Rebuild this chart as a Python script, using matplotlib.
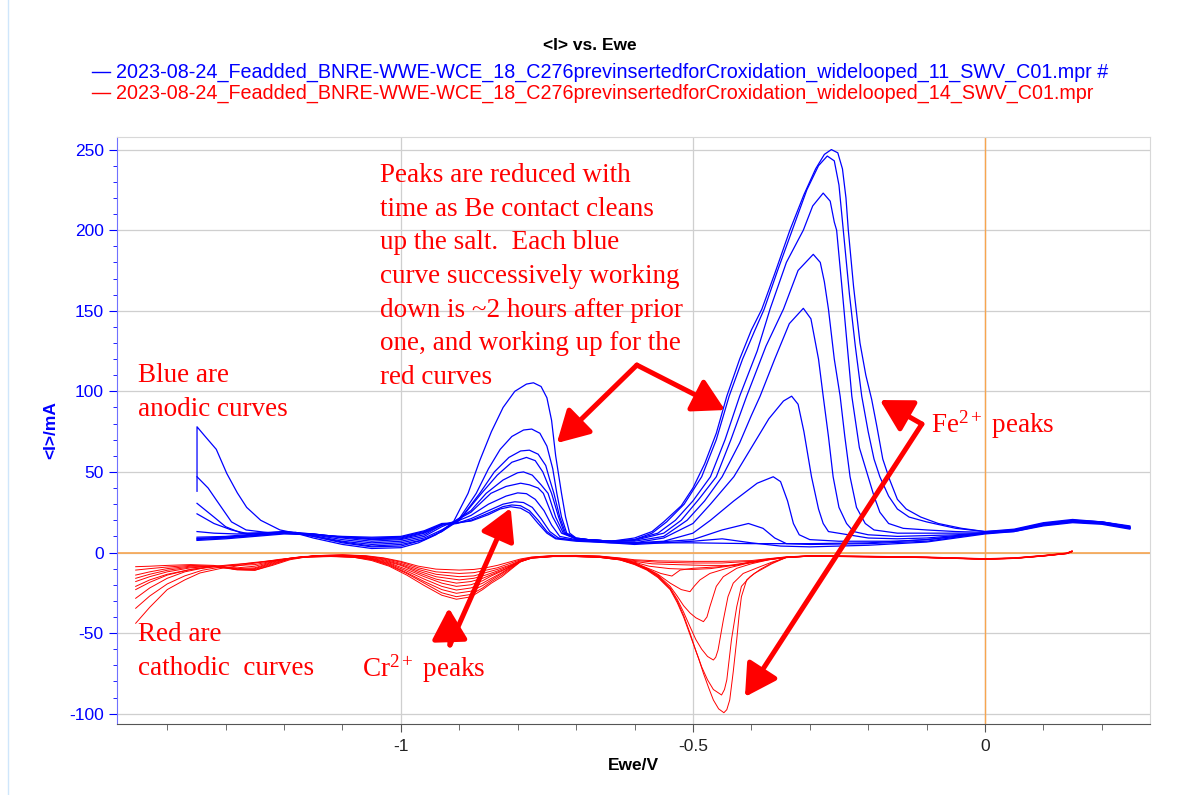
import matplotlib
matplotlib.use("Agg")
import matplotlib.pyplot as plt
from matplotlib.lines import Line2D
from matplotlib.patches import FancyArrowPatch
from matplotlib.ticker import MultipleLocator, FixedLocator

plt.rcParams["axes.unicode_minus"] = False
plt.rcParams["mathtext.fontset"] = "custom"
plt.rcParams["mathtext.rm"] = "Liberation Serif"
plt.rcParams["mathtext.it"] = "Liberation Serif:italic"

# ---- anodic (blue) SWV curves, (Ewe/V, <I>/mA) ----
anodic_1 = [(-1.349, 38), (-1.349, 78), (-1.335, 72), (-1.316, 64), (-1.298, 49), (-1.28, 37), (-1.264, 28),
            (-1.24, 20), (-1.207, 14), (-1.18, 12), (-1.15, 9), (-1.1, 5), (-1.05, 2.5), (-1.0, 3), (-0.97, 6),
            (-0.94, 11), (-0.91, 19), (-0.885, 36.7), (-0.865, 57), (-0.845, 75), (-0.825, 90), (-0.805, 100),
            (-0.785, 104.5), (-0.773, 105.3), (-0.76, 103), (-0.75, 96), (-0.742, 82), (-0.735, 60), (-0.725, 36.7),
            (-0.718, 22), (-0.711, 12), (-0.70, 9), (-0.68, 8), (-0.64, 7),
            (-0.6, 9), (-0.57, 13), (-0.55, 19), (-0.52, 29), (-0.5, 40), (-0.48, 55), (-0.46, 74), (-0.442, 97),
            (-0.42, 120), (-0.40, 138), (-0.382, 151), (-0.36, 173), (-0.334, 200), (-0.31, 222), (-0.29, 238),
            (-0.275, 247), (-0.263, 250), (-0.252, 248), (-0.244, 238), (-0.238, 220), (-0.234, 200), (-0.225, 165),
            (-0.214, 130), (-0.204, 110), (-0.194, 95), (-0.185, 78), (-0.175, 58), (-0.163, 45), (-0.15, 33),
            (-0.135, 27), (-0.11, 22), (-0.08, 18), (-0.04, 15), (0.0, 13), (0.05, 14), (0.1, 18), (0.15, 20),
            (0.2, 19), (0.248, 16)]
anodic_2 = [(-1.349, 47), (-1.33, 40), (-1.316, 32.6), (-1.29, 19), (-1.265, 14), (-1.22, 12), (-1.18, 12),
            (-1.15, 10), (-1.1, 6), (-1.05, 3.5), (-1.0, 4), (-0.96, 8), (-0.93, 13), (-0.9, 21), (-0.871, 36.7),
            (-0.85, 52), (-0.83, 64), (-0.81, 72), (-0.79, 76), (-0.776, 76.6), (-0.762, 74), (-0.75, 66),
            (-0.74, 52), (-0.733, 36.7), (-0.725, 22), (-0.716, 12), (-0.70, 9), (-0.68, 8), (-0.64, 7),
            (-0.6, 8), (-0.57, 12), (-0.545, 19), (-0.515, 30), (-0.485, 47), (-0.46, 70), (-0.438, 97),
            (-0.415, 120), (-0.395, 137), (-0.378, 151), (-0.355, 175), (-0.33, 200), (-0.305, 225), (-0.285, 240),
            (-0.27, 246), (-0.258, 243), (-0.25, 228), (-0.2426, 200), (-0.232, 160), (-0.222, 128), (-0.211, 97),
            (-0.2, 75), (-0.19, 58), (-0.18, 47), (-0.165, 35), (-0.15, 27), (-0.13, 22), (-0.1, 19), (-0.05, 15),
            (0.0, 13), (0.05, 14.5), (0.1, 18.5), (0.15, 20.5), (0.2, 19), (0.248, 16.5)]
anodic_3 = [(-1.349, 30.5), (-1.32, 22), (-1.3, 16), (-1.273, 12), (-1.22, 12), (-1.18, 12.5), (-1.15, 10),
            (-1.1, 6.5), (-1.05, 4), (-1.0, 5), (-0.96, 8), (-0.93, 13), (-0.9, 20), (-0.865, 36.7), (-0.84, 50),
            (-0.815, 59), (-0.795, 63), (-0.78, 63.5), (-0.765, 61), (-0.752, 54), (-0.745, 45), (-0.738, 36.7),
            (-0.728, 22), (-0.718, 12), (-0.70, 8.5), (-0.64, 7),
            (-0.6, 8), (-0.56, 12), (-0.53, 20), (-0.5, 32), (-0.47, 47), (-0.445, 70), (-0.42, 97), (-0.39, 125),
            (-0.368, 151), (-0.34, 180), (-0.311, 200), (-0.295, 215), (-0.277, 223), (-0.265, 218), (-0.258, 205),
            (-0.254, 200), (-0.245, 165), (-0.235, 125), (-0.228, 97), (-0.215, 65), (-0.2, 47), (-0.19, 35),
            (-0.18, 25), (-0.165, 18), (-0.14, 15), (-0.1, 14), (-0.05, 13), (0.0, 12.5), (0.05, 14), (0.1, 18),
            (0.15, 20), (0.2, 19), (0.248, 16)]
anodic_4 = [(-1.349, 24), (-1.32, 18), (-1.29, 14), (-1.26, 11.5), (-1.2, 12.5), (-1.15, 10.5), (-1.1, 7),
            (-1.05, 5), (-1.0, 6), (-0.96, 9), (-0.93, 14), (-0.9, 20), (-0.862, 36.7), (-0.835, 48), (-0.81, 56),
            (-0.785, 59), (-0.77, 57), (-0.757, 50), (-0.742, 36.7), (-0.73, 22), (-0.72, 12), (-0.70, 8.5),
            (-0.64, 7),
            (-0.6, 7.5), (-0.55, 12), (-0.52, 20), (-0.49, 33), (-0.46, 47), (-0.435, 70), (-0.408, 97),
            (-0.375, 128), (-0.345, 151), (-0.32, 175), (-0.294, 185), (-0.282, 180), (-0.275, 168), (-0.268, 151),
            (-0.258, 120), (-0.248, 97), (-0.24, 72), (-0.231, 47), (-0.22, 28), (-0.205, 18), (-0.19, 14),
            (-0.15, 12), (-0.1, 12), (-0.05, 12), (0.0, 12), (0.05, 14), (0.1, 18), (0.15, 19.5), (0.2, 18.5),
            (0.248, 15.5)]
anodic_5 = [(-1.349, 13), (-1.32, 12), (-1.28, 11.5), (-1.2, 13), (-1.15, 11), (-1.1, 8), (-1.05, 6), (-1.0, 7),
            (-0.96, 10), (-0.93, 16), (-0.91, 19), (-0.88, 26), (-0.854, 36.7), (-0.825, 45), (-0.8, 49.5),
            (-0.79, 50), (-0.775, 48), (-0.76, 42), (-0.748, 36.7), (-0.735, 22), (-0.722, 12), (-0.70, 8.5),
            (-0.64, 7),
            (-0.6, 7), (-0.55, 10), (-0.51, 20), (-0.48, 32), (-0.45, 47), (-0.42, 68), (-0.4, 85), (-0.385, 97),
            (-0.36, 120), (-0.335, 142), (-0.311, 151.5), (-0.298, 145), (-0.285, 120), (-0.277, 97), (-0.268, 72),
            (-0.26, 47), (-0.25, 28), (-0.237, 18), (-0.225, 13), (-0.2, 11), (-0.15, 10), (-0.1, 10.5),
            (-0.05, 11), (0.0, 12), (0.05, 13.5), (0.1, 17.5), (0.15, 19.5), (0.2, 18.5), (0.248, 15.5)]
anodic_6 = [(-1.349, 9.5), (-1.3, 10), (-1.2, 13), (-1.15, 11.5), (-1.1, 9), (-1.05, 7), (-1.0, 8), (-0.96, 11),
            (-0.93, 17), (-0.91, 19), (-0.88, 25), (-0.846, 36.7), (-0.82, 41), (-0.795, 43), (-0.78, 42),
            (-0.765, 40), (-0.756, 36.7), (-0.74, 22), (-0.725, 12), (-0.70, 8.5), (-0.64, 7),
            (-0.6, 6), (-0.55, 9), (-0.5, 18), (-0.47, 30), (-0.43, 47), (-0.4, 65), (-0.37, 83), (-0.345, 94),
            (-0.331, 97), (-0.32, 92), (-0.31, 75), (-0.297, 47), (-0.285, 27), (-0.277, 18), (-0.268, 13),
            (-0.2, 9), (-0.15, 8.5), (-0.1, 9), (-0.05, 10.5), (0.0, 12), (0.05, 13.5), (0.1, 17.5), (0.15, 19.5),
            (0.2, 18.5), (0.248, 15.5)]
anodic_7 = [(-1.349, 8.8), (-1.3, 9.5), (-1.2, 12.5), (-1.15, 11.5), (-1.1, 9.5), (-1.05, 8), (-1.0, 8.5),
            (-0.96, 12), (-0.93, 17), (-0.91, 18.5), (-0.88, 23), (-0.85, 30), (-0.82, 35), (-0.8, 37),
            (-0.785, 36.5), (-0.77, 33), (-0.755, 26), (-0.742, 17), (-0.728, 10), (-0.70, 8), (-0.64, 6.5),
            (-0.6, 6), (-0.55, 7), (-0.5, 12), (-0.47, 20), (-0.43, 32), (-0.39, 43), (-0.3625, 47), (-0.35, 44),
            (-0.338, 32), (-0.328, 18), (-0.318, 11), (-0.3, 8), (-0.25, 7), (-0.15, 7), (-0.1, 8), (-0.05, 10),
            (0.0, 12), (0.05, 13.5), (0.1, 17), (0.15, 19), (0.2, 18), (0.248, 15)]
anodic_8 = [(-1.349, 8.5), (-1.3, 9.5), (-1.2, 12), (-1.15, 11.5), (-1.1, 9.5), (-1.05, 8.5), (-1.0, 9),
            (-0.96, 12.5), (-0.93, 17.5), (-0.905, 18), (-0.88, 21), (-0.85, 26), (-0.825, 30), (-0.805, 31.5),
            (-0.79, 31), (-0.775, 28), (-0.76, 21), (-0.745, 13), (-0.73, 9), (-0.70, 7.5), (-0.64, 6.5),
            (-0.6, 5.5), (-0.5, 8), (-0.45, 14), (-0.405, 18), (-0.38, 15), (-0.36, 9), (-0.34, 5.5), (-0.3, 5),
            (-0.2, 5.5), (-0.1, 7), (-0.05, 9.5), (0.0, 12), (0.05, 13.5), (0.1, 17), (0.15, 19), (0.2, 18),
            (0.248, 15)]
anodic_9 = [(-1.349, 8), (-1.3, 9), (-1.2, 12), (-1.15, 11), (-1.1, 9.5), (-1.05, 9), (-1.0, 9.5), (-0.96, 13),
            (-0.93, 17.5), (-0.905, 18), (-0.88, 20), (-0.85, 24.5), (-0.825, 28.5), (-0.81, 29.5), (-0.795, 29),
            (-0.78, 26), (-0.765, 20), (-0.75, 13), (-0.735, 9), (-0.70, 7.5), (-0.64, 6),
            (-0.6, 5), (-0.5, 7), (-0.45, 8.5), (-0.4, 6), (-0.35, 4), (-0.3, 3.5), (-0.2, 4.5), (-0.1, 6.5),
            (-0.05, 9), (0.0, 11.5), (0.05, 13), (0.1, 17), (0.15, 19), (0.2, 18), (0.248, 15)]
anodic_10 = [(-1.349, 7.5), (-1.3, 8.5), (-1.2, 11.5), (-1.15, 11), (-1.1, 10), (-1.05, 9.5), (-1.0, 10),
             (-0.96, 13.5), (-0.93, 18), (-0.905, 18.5), (-0.88, 19.5), (-0.85, 23.5), (-0.83, 27), (-0.812, 28.4),
             (-0.795, 27.5), (-0.78, 24.5), (-0.765, 18), (-0.75, 12), (-0.735, 8.5), (-0.70, 7), (-0.64, 6),
             (-0.6, 6), (-0.5, 6), (-0.4, 5.5), (-0.3, 5.5), (-0.2, 6), (-0.1, 8), (0.0, 12), (0.05, 13),
             (0.1, 16.5), (0.15, 18.5), (0.2, 17.5), (0.248, 14.5)]

# ---- cathodic (red) SWV curves ----
cathodic_1 = [(-1.454, -43.9), (-1.43, -34), (-1.40, -23), (-1.37, -17), (-1.344, -12.7), (-1.31, -10),
              (-1.288, -8.8), (-1.25, -6.5), (-1.207, -4.6), (-1.17, -3), (-1.12, -2.5), (-1.08, -3), (-1.05, -5),
              (-1.02, -8.5), (-0.99, -14), (-0.96, -20.5), (-0.93, -26.5), (-0.905, -29), (-0.88, -27.5),
              (-0.86, -23), (-0.845, -19), (-0.827, -15), (-0.81, -10), (-0.795, -5.7), (-0.776, -3.5),
              (-0.74, -2.5), (-0.7, -2.5), (-0.66, -3), (-0.625, -4.6), (-0.6, -7.5), (-0.579, -10.9),
              (-0.56, -15.5), (-0.539, -23), (-0.527, -31), (-0.516, -40), (-0.508, -48), (-0.5, -56),
              (-0.49, -66), (-0.482, -75), (-0.473, -84), (-0.465, -91.5), (-0.456, -97), (-0.447, -99.4),
              (-0.442, -97.5), (-0.437, -91.5), (-0.431, -74), (-0.425, -54), (-0.421, -39), (-0.417, -27.4),
              (-0.408, -17), (-0.395, -13), (-0.385, -11), (-0.365, -7), (-0.34, -3), (-0.3, -2), (-0.2, -2.5),
              (-0.1, -3), (-0.05, -3.5), (0.0, -4), (0.05, -3.5), (0.1, -2), (0.14, -0.5), (0.149, 1)]
cathodic_2 = [(-1.454, -34.6), (-1.43, -27), (-1.40, -19.5), (-1.37, -14.5), (-1.34, -11), (-1.3, -8.5),
              (-1.26, -6.5), (-1.207, -4.5), (-1.17, -3), (-1.12, -2.3), (-1.08, -3), (-1.05, -4.5), (-1.02, -8),
              (-0.99, -13), (-0.96, -19), (-0.93, -25), (-0.905, -27.4), (-0.88, -26), (-0.86, -22), (-0.845, -18),
              (-0.827, -14), (-0.81, -9.5), (-0.795, -5.5), (-0.776, -3.5), (-0.74, -2.5), (-0.7, -2.5),
              (-0.66, -3), (-0.625, -4.5), (-0.6, -7.2), (-0.579, -10.5), (-0.56, -15), (-0.539, -22.5),
              (-0.527, -30), (-0.516, -39), (-0.505, -50), (-0.495, -61), (-0.485, -71), (-0.475, -79),
              (-0.465, -85), (-0.451, -88.4), (-0.446, -85), (-0.442, -79), (-0.434, -54), (-0.425, -33.6),
              (-0.417, -21), (-0.402, -15), (-0.385, -10.5), (-0.365, -6.5), (-0.34, -3), (-0.3, -2), (-0.2, -2.5),
              (-0.1, -3), (-0.05, -3.5), (0.0, -4), (0.05, -3.5), (0.1, -2), (0.14, -0.5), (0.149, 0.8)]
cathodic_3 = [(-1.454, -28.4), (-1.43, -22), (-1.40, -16), (-1.37, -12), (-1.33, -9), (-1.29, -7.5),
              (-1.25, -6.5), (-1.207, -4.2), (-1.17, -2.8), (-1.12, -2.2), (-1.08, -2.8), (-1.05, -4.3),
              (-1.02, -7.5), (-0.99, -12.5), (-0.96, -18), (-0.93, -23), (-0.905, -25.3), (-0.88, -24),
              (-0.86, -20.5), (-0.845, -17), (-0.827, -13), (-0.81, -9), (-0.795, -5.3), (-0.776, -3.4),
              (-0.74, -2.5), (-0.7, -2.5), (-0.66, -3), (-0.625, -4.5), (-0.6, -7), (-0.579, -10.3),
              (-0.56, -14.5), (-0.539, -22), (-0.527, -29), (-0.516, -37), (-0.505, -46), (-0.495, -54),
              (-0.485, -60), (-0.475, -64.5), (-0.465, -66.7), (-0.461, -65), (-0.457, -60.5), (-0.448, -42),
              (-0.44, -27.4), (-0.431, -19), (-0.414, -13), (-0.39, -9.5), (-0.365, -6), (-0.34, -3.2),
              (-0.3, -2.2), (-0.2, -2.6), (-0.1, -3.1), (-0.05, -3.6), (0.0, -4.1), (0.05, -3.6), (0.1, -2.1),
              (0.14, -0.6), (0.149, 0.6)]
cathodic_4 = [(-1.454, -23), (-1.43, -18.5), (-1.40, -14), (-1.36, -10.5), (-1.32, -8.5), (-1.28, -8),
              (-1.25, -7.5), (-1.207, -4.5), (-1.17, -2.8), (-1.12, -2), (-1.08, -2.6), (-1.05, -4), (-1.02, -7),
              (-0.99, -11.5), (-0.96, -16.5), (-0.93, -21), (-0.905, -23.3), (-0.88, -22), (-0.86, -19),
              (-0.845, -16), (-0.827, -12.5), (-0.81, -8.5), (-0.795, -5.2), (-0.776, -3.3), (-0.74, -2.4),
              (-0.7, -2.4), (-0.66, -2.8), (-0.625, -4.3), (-0.6, -6.8), (-0.579, -10), (-0.56, -14),
              (-0.539, -21), (-0.527, -27), (-0.516, -33), (-0.505, -37.5), (-0.495, -40.5), (-0.482, -42.9),
              (-0.476, -40), (-0.471, -33.6), (-0.46, -21), (-0.448, -15), (-0.425, -9.8), (-0.4, -7),
              (-0.37, -4.5), (-0.34, -3), (-0.3, -2.2), (-0.2, -2.6), (-0.1, -3.1), (-0.05, -3.6), (0.0, -4.1),
              (0.05, -3.6), (0.1, -2.1), (0.14, -0.6), (0.149, 0.6)]
cathodic_5 = [(-1.454, -21), (-1.43, -17), (-1.40, -13.5), (-1.36, -10.5), (-1.32, -9), (-1.28, -9.5),
              (-1.25, -8.5), (-1.207, -4.5), (-1.17, -2.5), (-1.12, -2), (-1.08, -2.5), (-1.05, -3.8),
              (-1.02, -6.5), (-0.99, -10.5), (-0.96, -15), (-0.93, -19), (-0.905, -21), (-0.88, -20),
              (-0.86, -17.5), (-0.845, -14.5), (-0.827, -11.5), (-0.81, -8), (-0.795, -5), (-0.776, -3.2),
              (-0.74, -2.3), (-0.7, -2.3), (-0.66, -2.7), (-0.625, -4.2), (-0.6, -6.5), (-0.579, -9.8),
              (-0.56, -13.5), (-0.539, -19), (-0.52, -23), (-0.505, -24.3), (-0.498, -21), (-0.488, -17),
              (-0.471, -13), (-0.442, -9.8), (-0.41, -7), (-0.37, -4.5), (-0.34, -3), (-0.3, -2.3), (-0.2, -2.7),
              (-0.1, -3.2), (-0.05, -3.7), (0.0, -4.2), (0.05, -3.7), (0.1, -2.2), (0.14, -0.7), (0.149, 0.5)]
cathodic_6 = [(-1.454, -18), (-1.43, -15), (-1.40, -12), (-1.36, -9.5), (-1.32, -8.5), (-1.28, -10),
              (-1.25, -9.5), (-1.22, -6), (-1.19, -3.5), (-1.15, -2.2), (-1.1, -2), (-1.06, -3), (-1.03, -5),
              (-1.0, -8), (-0.97, -12.5), (-0.94, -16.5), (-0.905, -19), (-0.88, -18), (-0.86, -16), (-0.84, -13),
              (-0.82, -10), (-0.8, -6.5), (-0.776, -3.2), (-0.74, -2.3), (-0.7, -2.2), (-0.66, -2.6),
              (-0.625, -4.1), (-0.6, -6.3), (-0.579, -9.5), (-0.555, -13), (-0.536, -14.6), (-0.522, -10.9),
              (-0.5, -9.8), (-0.454, -8.8), (-0.41, -6.5), (-0.37, -4.3), (-0.34, -3), (-0.3, -2.3), (-0.2, -2.7),
              (-0.1, -3.2), (-0.05, -3.7), (0.0, -4.2), (0.05, -3.7), (0.1, -2.2), (0.14, -0.7), (0.149, 0.5)]
cathodic_7 = [(-1.454, -16), (-1.43, -13.5), (-1.40, -11), (-1.36, -9), (-1.32, -8.5), (-1.28, -10.5),
              (-1.25, -10), (-1.22, -6.5), (-1.19, -3.8), (-1.15, -2.3), (-1.1, -1.8), (-1.06, -2.6), (-1.03, -4.5),
              (-1.0, -7.5), (-0.97, -11.5), (-0.94, -15), (-0.9, -17), (-0.875, -16), (-0.855, -14),
              (-0.835, -11.5), (-0.815, -8.5), (-0.795, -5.5), (-0.776, -3.2), (-0.74, -2.2), (-0.7, -2.1),
              (-0.66, -2.5), (-0.625, -4), (-0.6, -6), (-0.575, -8.5), (-0.54, -10), (-0.5, -10.5), (-0.47, -10),
              (-0.43, -8), (-0.4, -6), (-0.37, -4.2), (-0.34, -3), (-0.3, -2.3), (-0.2, -2.6), (-0.1, -3.1),
              (-0.05, -3.6), (0.0, -4.1), (0.05, -3.6), (0.1, -2.1), (0.14, -0.6), (0.149, 0.6)]
cathodic_8 = [(-1.454, -14), (-1.43, -12), (-1.40, -10), (-1.36, -8.5), (-1.32, -8.5), (-1.28, -10.5),
              (-1.25, -10.5), (-1.22, -7), (-1.19, -4), (-1.15, -2.2), (-1.1, -1.7), (-1.06, -2.4), (-1.03, -4),
              (-1.0, -6.8), (-0.97, -10.5), (-0.94, -13.5), (-0.9, -15), (-0.875, -14.5), (-0.855, -12.5),
              (-0.835, -10.5), (-0.815, -8), (-0.795, -5), (-0.776, -3.1), (-0.74, -2.1), (-0.7, -2), (-0.66, -2.4),
              (-0.625, -3.8), (-0.6, -5.5), (-0.57, -7), (-0.53, -7.5), (-0.48, -8), (-0.43, -8), (-0.4, -6),
              (-0.37, -4.2), (-0.34, -3), (-0.3, -2.2), (-0.2, -2.5), (-0.1, -3), (-0.05, -3.5), (0.0, -4),
              (0.05, -3.5), (0.1, -2), (0.14, -0.5), (0.149, 0.7)]
cathodic_9 = [(-1.454, -10.9), (-1.43, -10), (-1.40, -9), (-1.36, -8), (-1.32, -8.5), (-1.28, -10.8),
              (-1.25, -11), (-1.22, -7.5), (-1.19, -4), (-1.15, -2), (-1.1, -1.5), (-1.06, -2.2), (-1.03, -3.6),
              (-1.0, -6), (-0.97, -9.5), (-0.94, -12), (-0.9, -13), (-0.875, -12.5), (-0.855, -11), (-0.835, -9.5),
              (-0.815, -7), (-0.795, -4.5), (-0.776, -3), (-0.74, -2), (-0.7, -1.9), (-0.66, -2.3), (-0.625, -3.6),
              (-0.6, -5), (-0.56, -6), (-0.5, -6.5), (-0.45, -6.5), (-0.4, -5.5), (-0.37, -4), (-0.34, -2.8),
              (-0.3, -2.1), (-0.2, -2.4), (-0.1, -2.9), (-0.05, -3.4), (0.0, -3.9), (0.05, -3.4), (0.1, -1.9),
              (0.14, -0.4), (0.149, 0.8)]
cathodic_10 = [(-1.454, -8.8), (-1.43, -8.5), (-1.40, -8), (-1.36, -7.5), (-1.32, -8), (-1.28, -10.5),
               (-1.25, -11), (-1.22, -8), (-1.19, -4.5), (-1.15, -2), (-1.1, -1.4), (-1.06, -2), (-1.03, -3.3),
               (-1.0, -5.5), (-0.97, -8.5), (-0.94, -10.3), (-0.9, -10.9), (-0.875, -10.5), (-0.855, -9.5),
               (-0.835, -8), (-0.815, -6), (-0.795, -4), (-0.776, -2.8), (-0.74, -1.9), (-0.7, -1.8),
               (-0.66, -2.2), (-0.625, -3.4), (-0.6, -4.5), (-0.56, -5.2), (-0.5, -5.5), (-0.45, -5.5), (-0.4, -5),
               (-0.37, -3.8), (-0.34, -2.7), (-0.3, -2), (-0.2, -2.3), (-0.1, -2.8), (-0.05, -3.3), (0.0, -3.8),
               (0.05, -3.3), (0.1, -1.8), (0.14, -0.3), (0.149, 0.9)]

anodic = [anodic_1, anodic_2, anodic_3, anodic_4, anodic_5, anodic_6, anodic_7, anodic_8, anodic_9, anodic_10]
cathodic = [cathodic_1, cathodic_2, cathodic_3, cathodic_4, cathodic_5, cathodic_6, cathodic_7, cathodic_8,
            cathodic_9, cathodic_10]

title = "<I> vs. Ewe"
legend_blue = "2023-08-24_Feadded_BNRE-WWE-WCE_18_C276previnsertedforCroxidation_widelooped_11_SWV_C01.mpr #"
legend_red = "2023-08-24_Feadded_BNRE-WWE-WCE_18_C276previnsertedforCroxidation_widelooped_14_SWV_C01.mpr"
note_lines = ["Peaks are reduced with", "time as Be contact cleans", "up the salt.  Each blue",
              "curve successively working", "down is ~2 hours after prior", "one, and working up for the",
              "red curves"]

BLUE = "#0000ff"
RED = "#ff0000"
ORANGE = "#f7a54f"
GRID = "#cfcfcf"

W, H = 1179, 795
fig = plt.figure(figsize=(W / 100, H / 100), dpi=100)
ax = fig.add_axes([117 / W, 1 - 724 / H, (1150 - 117) / W, (724 - 137) / H])

for c in anodic:
    ax.plot([p[0] for p in c], [p[1] for p in c], color=BLUE, lw=0.9, zorder=3)
for c in cathodic:
    ax.plot([p[0] for p in c], [p[1] for p in c], color=RED, lw=0.7, zorder=4)

ax.set_xlim(-1.486, 0.2825)
ax.set_ylim(-106.4, 257.8)

ax.axhline(0, color=ORANGE, lw=1.2, zorder=2)
ax.axvline(0, color=ORANGE, lw=1.0, zorder=2)

ax.xaxis.set_major_locator(FixedLocator([-1, -0.5, 0]))
ax.xaxis.set_minor_locator(MultipleLocator(0.1))
ax.yaxis.set_major_locator(MultipleLocator(50))
ax.yaxis.set_minor_locator(MultipleLocator(10))
ax.set_xticklabels(["-1", "-0.5", "0"])
ax.grid(True, which="major", color=GRID, lw=0.9, zorder=0)
ax.set_axisbelow(True)

ax.tick_params(axis="x", which="both", direction="out", colors="#555555", labelcolor="#222222",
               labelsize=12.5, pad=5)
ax.tick_params(axis="x", which="major", length=6)
ax.tick_params(axis="x", which="minor", length=4)
ax.tick_params(axis="y", which="both", direction="out", colors=BLUE, labelcolor=BLUE, labelsize=12.5)
ax.tick_params(axis="y", which="major", length=6)
ax.tick_params(axis="y", which="minor", length=3)
for lab in ax.get_xticklabels() + ax.get_yticklabels():
    lab.set_family("Liberation Sans")

ax.spines["left"].set_color("#7070ff")
ax.spines["bottom"].set_color("#555555")
ax.spines["top"].set_color("#d8d8d8")
ax.spines["right"].set_color("#d8d8d8")

ax.set_xlabel("Ewe/V", fontsize=12.5, fontweight="bold", family="Liberation Sans", labelpad=3)
ax.set_ylabel("<I>/mA", fontsize=12.5, fontweight="bold", family="Liberation Sans", color=BLUE, labelpad=8)

# title and file legend
fig.text(590 / W, 1 - 45 / H, title, ha="center", va="center", fontsize=12.5, fontweight="bold",
         family="Liberation Sans")
for yy, txt, col in [(72, legend_blue, BLUE), (93, legend_red, RED)]:
    fig.add_artist(Line2D([92 / W, 110 / W], [1 - yy / H, 1 - yy / H], color=col, lw=1))
    fig.text(116 / W, 1 - yy / H, txt, ha="left", va="center", fontsize=14.2, color=col,
             family="Liberation Sans")
fig.add_artist(Line2D([8 / W, 8 / W], [0, 1], color="#cfe6fb", lw=1))

# red annotations
serif = dict(color=RED, family="Liberation Serif", fontsize=19.5, zorder=6)
for i, line in enumerate(note_lines):
    ax.text(-1.036, 234 - i * 20.9, line, va="center", ha="left", **serif)
ax.text(-1.45, 110, "Blue are", va="center", **serif)
ax.text(-1.45, 89, "anodic curves", va="center", **serif)
ax.text(-1.45, -51, "Red are", va="center", **serif)
ax.text(-1.45, -72, "cathodic  curves", va="center", **serif)
ax.text(-1.067, -72, r"Cr$^{\mathrm{2+}}$ peaks", va="center", **serif)
ax.text(-0.093, 79, r"Fe$^{\mathrm{2+}}$ peaks", va="center", **serif)

arrows = [((-0.596, 116.3), (-0.733, 67.9)), ((-0.596, 116.3), (-0.445, 88.4)),
          ((-0.108, 79.7), (-0.180, 94.6)), ((-0.108, 79.7), (-0.411, -89.6)),
          ((-0.916, -57.4), (-0.918, -34.4)), ((-0.916, -57.4), (-0.812, 27.6))]
for a, b in arrows:
    ax.add_patch(FancyArrowPatch(a, b, arrowstyle="-|>,head_length=1.6,head_width=0.9",
                                 mutation_scale=12, color=RED, lw=3.6, shrinkA=0, shrinkB=0, zorder=7))

fig.savefig("out.png", dpi=100)
